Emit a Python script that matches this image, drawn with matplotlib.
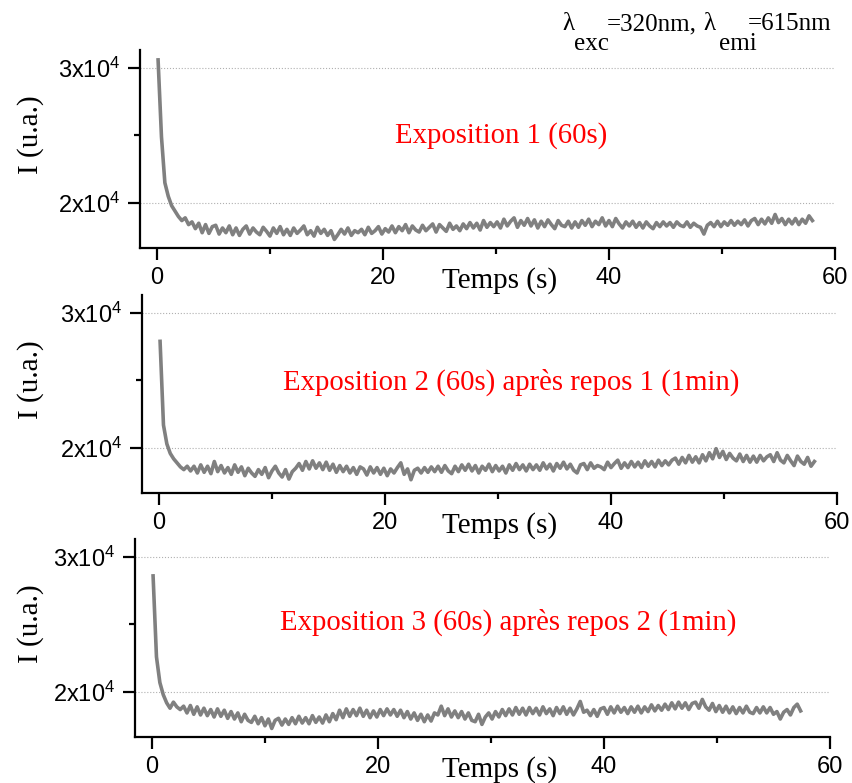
import numpy as np
import matplotlib; matplotlib.use('Agg')
import matplotlib.pyplot as plt
from matplotlib.ticker import FixedLocator, FixedFormatter
from matplotlib.transforms import blended_transform_factory

plt.rcParams['mathtext.fontset'] = 'custom'
plt.rcParams['mathtext.rm'] = 'Liberation Sans'

# time base of the acquisitions (s), one sample every 0.3 s
t1 = np.arange(194) * 0.3 + 0.1
t2 = np.arange(194) * 0.3 + 0.1
t3 = np.arange(192) * 0.3 + 0.1

# intensity (u.a.)
i1 = [30600, 24900, 21500, 20500, 19800, 19400, 19000, 18700, 18900, 18400,
      18600, 18100, 18500, 17800, 18400, 17750, 18250, 18350, 17700, 18150,
      17800, 18300, 17650, 18150, 17600, 18050, 18300, 17700, 18150, 17850,
      17650, 18200, 17900, 17550, 18150, 17750, 18250, 17650, 18050, 17600,
      18150, 17750, 18000, 18300, 17650, 17950, 17550, 18200, 17750, 18050,
      17600, 17950, 17300, 17650, 18050, 17700, 18150, 17600, 17950, 17800,
      18050, 17650, 18200, 17750, 17950, 18250, 17700, 18100, 17850, 18300,
      17800, 18250, 17950, 18400, 17800, 18300, 18000, 17850, 18350, 17950,
      18200, 18450, 17850, 18400, 18150, 17900, 18500, 18050, 18300, 17950,
      18450, 18100, 18550, 18150, 18500, 18000, 18700, 18200, 18550, 18250,
      18600, 18150, 18800, 18300, 18650, 18900, 18200, 18700, 18350, 18850,
      18300, 18750, 18150, 18650, 18250, 18750, 18400, 18100, 18700, 18350,
      18250, 18650, 18150, 18600, 18200, 18700, 18350, 18800, 18250, 18650,
      18400, 18900, 18300, 18700, 18250, 18850, 18450, 18150, 18600, 18300,
      18650, 18200, 18550, 18150, 18600, 18300, 18100, 18550, 18250, 18600,
      18300, 18550, 18200, 18600, 18350, 18250, 18600, 18200, 18500, 18300,
      18200, 17700, 18350, 18550, 18250, 18650, 18250, 18600, 18350, 18700,
      18350, 18650, 18400, 18750, 18300, 18700, 18850, 18400, 18800, 18450,
      18900, 18500, 19150, 18550, 18850, 18400, 18800, 18450, 18850, 18400,
      18800, 18500, 19050, 18700]
i2 = [27900, 21700, 20300, 19600, 19200, 18900, 18600, 18400, 18650, 18300,
      18650, 18150, 18750, 18200, 18650, 18100, 19000, 18250, 18700, 18150,
      18550, 18050, 18750, 18200, 18600, 17950, 18500, 18150, 17900, 18400,
      18050, 18550, 17800, 18300, 18650, 18150, 17850, 18400, 17700, 18250,
      18500, 18850, 18350, 19000, 18450, 19050, 18500, 18900, 18400, 18950,
      18350, 18800, 18200, 18700, 18250, 18650, 18150, 18550, 18050, 18600,
      18450, 18000, 18600, 18150, 18550, 18050, 18500, 17950, 18450, 18150,
      18550, 18900, 18050, 18450, 17650, 18350, 18500, 18150, 18550, 18200,
      18600, 18250, 18650, 18200, 18700, 18300, 18100, 18650, 18250, 18750,
      18350, 18800, 18300, 18700, 18150, 18650, 18350, 18800, 18250, 18700,
      18300, 18650, 18150, 18750, 18350, 18850, 18400, 18750, 18300, 18800,
      18400, 18750, 18350, 18900, 18450, 18800, 18300, 18850, 18500, 18950,
      18450, 18800, 18350, 18150, 18750, 18850, 18400, 18900, 18500, 18700,
      18600, 18400, 18950, 18550, 18850, 19100, 18500, 18900, 18550, 19000,
      18600, 18950, 18550, 19050, 18650, 19000, 18600, 19100, 18700, 19050,
      18750, 19100, 19250, 18800, 19300, 18900, 19450, 18950, 19350, 18900,
      19500, 19050, 19650, 19200, 19950, 19300, 19750, 19150, 19600, 19250,
      19050, 19550, 19000, 19450, 18950, 19400, 18950, 19450, 19050, 19350,
      19500, 19000, 19650, 19100, 18900, 19450, 19050, 18700, 19400, 19000,
      18800, 19300, 18650, 19000]
i3 = [28600, 22600, 20700, 19800, 19200, 18800, 19250, 18900, 18700, 18950,
      18450, 19000, 18350, 18900, 18300, 18800, 18250, 18700, 18150, 18750,
      18200, 18650, 18050, 18550, 18000, 18450, 17800, 18350, 17900, 17750,
      18200, 17650, 18100, 17500, 18000, 17300, 17900, 18050, 17550, 18000,
      17600, 18100, 17650, 18200, 17700, 18100, 17650, 18250, 17750, 18150,
      17700, 18300, 17800, 18400, 17950, 18650, 18100, 18750, 18200, 18700,
      18250, 18800, 18200, 18650, 18100, 18600, 18150, 18700, 18250, 18750,
      18300, 18700, 18200, 18650, 18100, 18550, 18000, 18450, 17900, 18350,
      17800, 18300, 17850, 18450, 18300, 18950, 18250, 18750, 18150, 18600,
      18100, 18550, 18000, 18450, 17900, 17800, 18350, 17600, 18150, 18450,
      18000, 18550, 18150, 18700, 18250, 18750, 18300, 18850, 18350, 18800,
      18300, 18850, 18400, 18800, 18300, 18900, 18400, 18750, 18250, 18850,
      18400, 18900, 18350, 18800, 18300, 18750, 19300, 18500, 18650, 18250,
      18700, 18200, 18750, 18850, 18350, 18900, 18450, 18950, 18500, 18850,
      18400, 18900, 18500, 18950, 18450, 18900, 18550, 19050, 18600, 19000,
      18650, 19100, 18700, 19200, 18750, 19250, 18800, 19200, 18700, 19150,
      19250, 18800, 19450, 18900, 18650, 19150, 18550, 19000, 18500, 18950,
      18450, 18900, 18400, 18850, 18450, 18950, 18500, 18400, 18850, 18450,
      18900, 18450, 18850, 18350, 18550, 18000, 18500, 18700, 18300, 18850,
      19100, 18600]

titles = ['Exposition 1 (60s)',
          'Exposition 2 (60s) après repos 1 (1min)',
          'Exposition 3 (60s) après repos 2 (1min)']
xticks = [0, 20, 40, 60]
yticks = [20000, 30000]
ytick_labels = [r'$\mathregular{2x10^4}$', r'$\mathregular{3x10^4}$']

W, H = 852, 783
fig = plt.figure(figsize=(W / 100, H / 100), dpi=100)
# (left spine px, bottom spine px, title centre px x, y)
panels = [(140, 248, 501, 136), (142, 493, 511, 382), (135, 737, 508, 622)]
serif = 'Liberation Serif'
for (lpx, bpx, tx, ty), t, y, title in zip(panels, [t1, t2, t3], [i1, i2, i3], titles):
    ax = fig.add_axes([lpx / W, 1 - bpx / H, 695 / W, 198 / H])
    ax.plot(t, y, color='#808080', lw=2.6, solid_joinstyle='round')
    ax.set_xlim(-1.5, 60)
    ax.set_ylim(16667, 31333)
    for s in ['top', 'right']:
        ax.spines[s].set_visible(False)
    for s in ['left', 'bottom']:
        ax.spines[s].set_linewidth(1.6)
    ax.xaxis.set_major_locator(FixedLocator(xticks))
    ax.xaxis.set_minor_locator(FixedLocator([10, 30, 50]))
    ax.yaxis.set_major_locator(FixedLocator(yticks))
    ax.yaxis.set_major_formatter(FixedFormatter(ytick_labels))
    ax.yaxis.set_minor_locator(FixedLocator([25000]))
    ax.tick_params(which='major', length=8.5, width=1.6, labelsize=17, pad=5)
    ax.tick_params(which='minor', length=4, width=1.6)
    ax.tick_params(axis='y', pad=6)
    for lab in ax.get_xticklabels() + ax.get_yticklabels():
        lab.set_fontfamily('Liberation Sans')
    ax.grid(axis='y', which='major', ls=':', color='#b0b0b0', lw=0.8)
    ax.set_axisbelow(True)
    ax.set_xlabel('Temps (s)', fontsize=21, family=serif, va='center')
    ax.xaxis.set_label_coords((500 - lpx) / 695, -33 / 198)
    ax.set_ylabel('I (u.a.)', fontsize=21, family=serif, va='center')
    ax.yaxis.set_label_coords(31 / W, 113 / 198,
                              transform=blended_transform_factory(fig.transFigure, ax.transAxes))
    ax.text((tx - lpx) / 695, (bpx - ty) / 198, title, transform=ax.transAxes,
            ha='center', va='center', color='#ff0000', fontsize=20.7, family=serif)

fs = 18
for px, py, s in [(562, 30, 'λ'), (574, 50, 'exc'), (607, 30, '=320nm,'),
                  (703, 30, 'λ'), (719, 50, 'emi'), (748, 30, '=615nm')]:
    fig.text(px / W, 1 - py / H, s, fontsize=fs, family=serif, va='baseline', ha='left')

fig.savefig('out.png', dpi=100)
